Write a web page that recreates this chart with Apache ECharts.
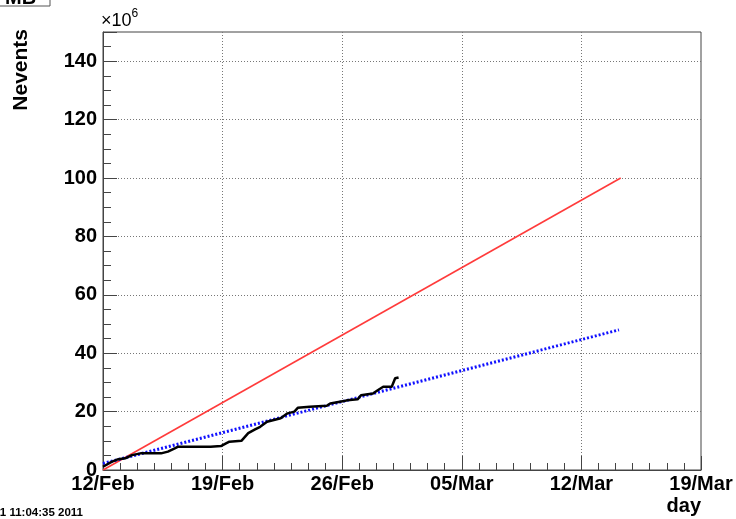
<!DOCTYPE html>
<html>
<head>
<meta charset="utf-8">
<script src="https://cdn.jsdelivr.net/npm/echarts@6/dist/echarts.min.js"></script>
<style>
html,body{margin:0;padding:0;background:#fff;}
#chart{width:736px;height:519px;}
</style>
</head>
<body>
<div id="chart"></div>
<script>
// x values: days since 12/Feb 2011; y values: Nevents in units of 10^6
var tickLabels = ['12/Feb', '19/Feb', '26/Feb', '05/Mar', '12/Mar', '19/Mar'];
var blackDays = [0, 0.5, 0.9, 1.3, 1.7, 2.2, 3.4, 3.8, 4.2, 4.4, 6.3, 6.9, 7.2, 7.4, 8.1, 8.5, 8.9, 9.2, 9.6, 10.4, 10.8, 11.2, 11.4, 12.1, 13.1, 13.3, 14.1, 14.3, 14.9, 15.1, 15.8, 16.1, 16.4, 16.9, 17.1, 17.3];
var blackVals = [1.1, 2.8, 3.7, 4.0, 5.1, 5.7, 5.7, 6.3, 7.4, 8.0, 8.0, 8.2, 9.1, 9.7, 10.0, 12.6, 13.9, 14.8, 16.5, 17.7, 19.4, 20.0, 21.3, 21.7, 22.0, 22.8, 23.6, 23.9, 24.2, 25.6, 26.2, 27.4, 28.5, 28.5, 31.4, 31.7];
var redDays = [0, 30.3];
var redVals = [0, 100];
var blueDays = [0, 30.2];
var blueVals = [2.2, 48];

function pairs(xs, ys) { return xs.map(function (x, i) { return [x, ys[i]]; }); }

var chart = echarts.init(document.getElementById('chart'), null, {renderer: 'canvas'});
var FONT = 'Liberation Sans, Arial, Helvetica, sans-serif';
var axisColor = '#444';
var gridLine = {show: true, showMinLine: false, showMaxLine: false, lineStyle: {color: '#777', width: 1, type: [1, 2]}};

chart.setOption({
  animation: false,
  backgroundColor: '#fff',
  grid: {left: 103, right: 35, top: 32, bottom: 49, show: true, borderColor: axisColor, borderWidth: 1, backgroundColor: 'transparent'},
  xAxis: {
    type: 'value', min: 0, max: 35, interval: 7,
    axisLine: {show: true, onZero: false, lineStyle: {color: axisColor, width: 1}},
    axisTick: {show: true, inside: true, length: 14, lineStyle: {color: axisColor}},
    minorTick: {show: true, splitNumber: 7, length: 7, lineStyle: {color: axisColor}},
    splitLine: gridLine,
    axisLabel: {
      margin: 4, color: '#000', fontFamily: FONT, fontWeight: 'bold', fontSize: 20,
      formatter: function (v) { return tickLabels[Math.round(v / 7)] || ''; }
    }
  },
  yAxis: [{
    type: 'value', min: 0, max: 150, interval: 20,
    axisLine: {show: true, onZero: false, lineStyle: {color: axisColor, width: 1}},
    axisTick: {show: true, inside: true, length: 14, lineStyle: {color: axisColor}},
    splitLine: gridLine,
    axisLabel: {
      margin: 6, color: '#000', fontFamily: FONT, fontWeight: 'bold', fontSize: 20,
      formatter: function (v) { return v > 140 ? '' : String(v); }
    }
  }, {
    type: 'value', min: 0, max: 150, interval: 5, position: 'left',
    axisLine: {show: false},
    axisTick: {show: true, inside: true, length: 8, lineStyle: {color: axisColor}},
    splitLine: {show: false},
    axisLabel: {show: false}
  }],
  graphic: [
    {type: 'rect', z: 10, shape: {x: -2, y: -20, width: 52, height: 26}, style: {fill: '#fff', stroke: '#555', lineWidth: 1}},
    {type: 'text', z: 11, x: 5, y: 8, style: {text: 'MB', font: 'bold 20px ' + FONT, fill: '#000', align: 'left', verticalAlign: 'bottom'}},
    {type: 'text', x: 83, y: 513, style: {text: 'Tue Mar  1 11:04:35 2011', font: 'bold 11.5px ' + FONT, fill: '#000', align: 'right', verticalAlign: 'middle'}},
    {type: 'text', x: 21, y: 29, rotation: Math.PI / 2, style: {text: 'Nevents', font: 'bold 21px ' + FONT, fill: '#000', align: 'right', verticalAlign: 'middle'}},
    {type: 'text', x: 701, y: 496, style: {text: 'day', font: 'bold 20px ' + FONT, fill: '#000', align: 'right', verticalAlign: 'top'}},
    {type: 'text', x: 101, y: 30, style: {
      text: '{a|×10}{b|6}', align: 'left', verticalAlign: 'bottom',
      rich: {a: {fontFamily: FONT, fontSize: 18, color: '#000', verticalAlign: 'bottom'}, b: {fontFamily: FONT, fontSize: 12, color: '#000', padding: [0, 0, 10, 0]}}
    }}
  ],
  series: [
    {type: 'line', name: 'target', data: pairs(redDays, redVals), showSymbol: false, symbol: 'none', lineStyle: {color: '#ff3b3b', width: 1.6}, z: 3},
    {type: 'line', name: 'expected', data: pairs(blueDays, blueVals), showSymbol: false, symbol: 'none', lineStyle: {color: '#1010ff', width: 3, type: [2, 2]}, z: 4},
    {type: 'line', name: 'recorded', data: pairs(blackDays, blackVals), showSymbol: false, symbol: 'none', lineStyle: {color: '#000', width: 2.5}, z: 5}
  ]
});
</script>
</body>
</html>
